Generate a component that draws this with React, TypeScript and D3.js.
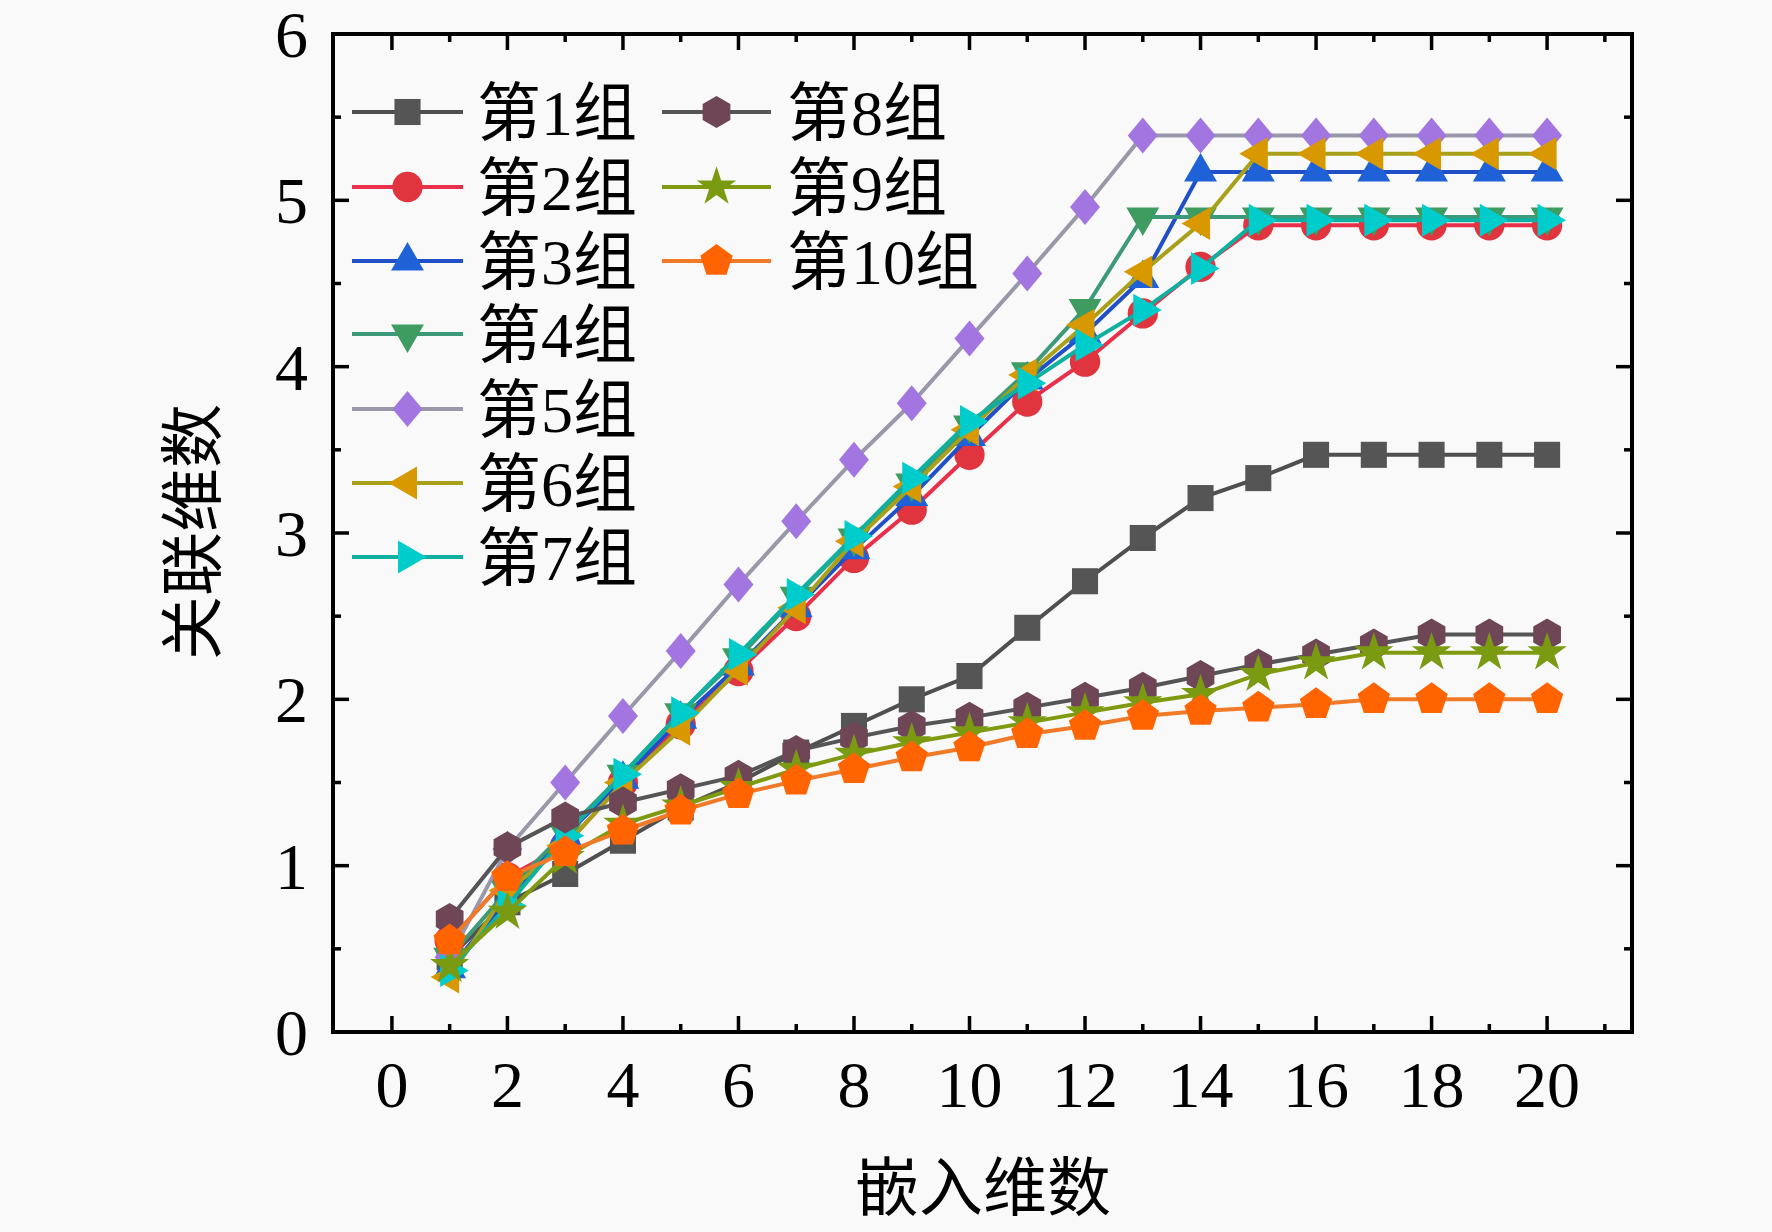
import * as d3 from "d3";

const dims = d3.range(1, 21);

const groupNames = ["第1组", "第2组", "第3组", "第4组", "第5组", "第6组", "第7组", "第8组", "第9组", "第10组"];

const g1 = [0.45, 0.78, 0.95, 1.15, 1.35, 1.5, 1.68, 1.84, 2.0, 2.14, 2.43, 2.71, 2.97, 3.21, 3.33, 3.47, 3.47, 3.47, 3.47, 3.47];
const g2 = [0.55, 0.93, 1.12, 1.5, 1.85, 2.17, 2.5, 2.85, 3.14, 3.47, 3.79, 4.03, 4.32, 4.6, 4.85, 4.85, 4.85, 4.85, 4.85, 4.85];
const g3 = [0.38, 0.8, 1.18, 1.52, 1.88, 2.2, 2.55, 2.9, 3.22, 3.58, 3.92, 4.2, 4.53, 5.17, 5.17, 5.17, 5.17, 5.17, 5.17, 5.17];
const g4 = [0.45, 0.85, 1.2, 1.55, 1.92, 2.25, 2.62, 2.97, 3.3, 3.65, 3.97, 4.35, 4.9, 4.9, 4.9, 4.9, 4.9, 4.9, 4.9, 4.9];
const g5 = [0.45, 1.1, 1.5, 1.9, 2.29, 2.69, 3.07, 3.44, 3.78, 4.17, 4.56, 4.96, 5.39, 5.39, 5.39, 5.39, 5.39, 5.39, 5.39, 5.39];
const g6 = [0.33, 0.85, 1.12, 1.5, 1.82, 2.18, 2.55, 2.95, 3.28, 3.62, 3.95, 4.25, 4.57, 4.86, 5.28, 5.28, 5.28, 5.28, 5.28, 5.28];
const g7 = [0.37, 0.76, 1.18, 1.55, 1.92, 2.27, 2.63, 2.98, 3.33, 3.67, 3.9, 4.13, 4.34, 4.59, 4.88, 4.88, 4.88, 4.88, 4.88, 4.88];
const g8 = [0.68, 1.11, 1.29, 1.38, 1.46, 1.54, 1.69, 1.77, 1.84, 1.89, 1.95, 2.01, 2.07, 2.14, 2.21, 2.27, 2.33, 2.39, 2.39, 2.39];
const g9 = [0.4, 0.72, 1.05, 1.25, 1.36, 1.47, 1.58, 1.67, 1.74, 1.8, 1.86, 1.92, 1.98, 2.03, 2.15, 2.22, 2.28, 2.28, 2.28, 2.28];
const g10 = [0.55, 0.93, 1.08, 1.21, 1.33, 1.43, 1.51, 1.58, 1.65, 1.71, 1.79, 1.84, 1.9, 1.93, 1.95, 1.97, 2.0, 2.0, 2.0, 2.0];

const seriesValues = [g1, g2, g3, g4, g5, g6, g7, g8, g9, g10];

const lineColors = ["#4f4f4f", "#e8304a", "#2050c8", "#3c9a78", "#9898a8", "#a8a018", "#10b0a0", "#555555", "#7f9a10", "#f07a28"];
const markerColors = ["#555555", "#e0343e", "#1f62d8", "#3f9c60", "#a275e0", "#d89800", "#00cccc", "#6e4656", "#7a9a12", "#ff6400"];
const shapes = ["square", "circle", "triUp", "triDown", "diamond", "triLeft", "triRight", "hexagon", "star", "pentagon"];

const xTicks = d3.range(0, 21, 2);
const yTicks = d3.range(0, 7, 1);

const W = 1772;
const H = 1232;
const plot = { left: 333, right: 1632, top: 34, bottom: 1032 };

const serif = "'Liberation Serif', 'Times New Roman', serif";
const cjk = "'Liberation Serif', 'Noto Sans CJK SC', serif";

function polygon(n: number, r: number, rot: number) {
  const pts = d3.range(n).map((i) => {
    const a = rot + (i * 2 * Math.PI) / n;
    return [r * Math.cos(a), r * Math.sin(a)];
  });
  return "M" + pts.map((p) => p[0].toFixed(2) + "," + p[1].toFixed(2)).join("L") + "Z";
}

function markerPath(shape: string) {
  const r = 16;
  switch (shape) {
    case "square":
      return d3.symbol(d3.symbolSquare, 680)()!;
    case "circle":
      return d3.symbol(d3.symbolCircle, 720)()!;
    case "triUp":
      return polygon(3, 19, -Math.PI / 2);
    case "triDown":
      return polygon(3, 19, Math.PI / 2);
    case "triLeft":
      return polygon(3, 19, Math.PI);
    case "triRight":
      return polygon(3, 19, 0);
    case "diamond":
      return "M0,-18L15,0L0,18L-15,0Z";
    case "hexagon":
      return polygon(6, r, -Math.PI / 2);
    case "pentagon":
      return polygon(5, r + 1, -Math.PI / 2);
    case "star":
      return d3.symbol(d3.symbolStar, 480)()!;
  }
  return "";
}

export default function App() {
  const x = d3.scaleLinear().domain([-1.02, 21.47]).range([plot.left, plot.right]);
  const y = d3.scaleLinear().domain([0, 6]).range([plot.bottom, plot.top]);

  const line = d3
    .line<number>()
    .x((_, i) => x(dims[i]))
    .y((v) => y(v));

  const xMinor = d3.range(1, 22, 2);
  const yMinor = d3.range(0.5, 6, 1);

  const legendRows = [112, 187, 261, 334, 409, 483, 557];
  const legendItems = groupNames.map((name, i) => {
    const col = i < 7 ? 0 : 1;
    const row = i < 7 ? i : i - 7;
    return {
      name,
      i,
      x0: col === 0 ? 352 : 662,
      x1: col === 0 ? 463 : 771,
      tx: col === 0 ? 477 : 787,
      y: legendRows[row],
    };
  });

  return (
    <svg width={W} height={H} style={{ position: "absolute", left: 0, top: 0, background: "#f9f9f9" }}>
      <rect width={W} height={H} fill="#f9f9f9" />

      {/* series */}
      {seriesValues.map((vals, s) => (
        <g key={s}>
          <path d={line(vals)!} fill="none" stroke={lineColors[s]} strokeWidth={4} />
          {vals.map((v, i) => (
            <path
              key={i}
              d={markerPath(shapes[s])}
              transform={`translate(${x(dims[i])},${y(v)})`}
              fill={markerColors[s]}
            />
          ))}
        </g>
      ))}

      {/* ticks, inward on all four sides */}
      <g stroke="#000" strokeWidth={3.5}>
        {xTicks.map((t) => (
          <g key={"xt" + t}>
            <line x1={x(t)} x2={x(t)} y1={plot.bottom} y2={plot.bottom - 16} />
            <line x1={x(t)} x2={x(t)} y1={plot.top} y2={plot.top + 16} />
          </g>
        ))}
        {xMinor.map((t) => (
          <g key={"xm" + t}>
            <line x1={x(t)} x2={x(t)} y1={plot.bottom} y2={plot.bottom - 8} />
            <line x1={x(t)} x2={x(t)} y1={plot.top} y2={plot.top + 8} />
          </g>
        ))}
        {yTicks.map((t) => (
          <g key={"yt" + t}>
            <line x1={plot.left} x2={plot.left + 16} y1={y(t)} y2={y(t)} />
            <line x1={plot.right} x2={plot.right - 16} y1={y(t)} y2={y(t)} />
          </g>
        ))}
        {yMinor.map((t) => (
          <g key={"ym" + t}>
            <line x1={plot.left} x2={plot.left + 8} y1={y(t)} y2={y(t)} />
            <line x1={plot.right} x2={plot.right - 8} y1={y(t)} y2={y(t)} />
          </g>
        ))}
      </g>

      <rect
        x={plot.left}
        y={plot.top}
        width={plot.right - plot.left}
        height={plot.bottom - plot.top}
        fill="none"
        stroke="#000"
        strokeWidth={4}
      />

      {/* tick labels */}
      {xTicks.map((t) => (
        <text key={"xl" + t} x={x(t)} y={1107} textAnchor="middle" fontFamily={serif} fontSize={66}>
          {t}
        </text>
      ))}
      {yTicks.map((t) => (
        <text key={"yl" + t} x={308} y={y(t)} dy="0.35em" textAnchor="end" fontFamily={serif} fontSize={66}>
          {t}
        </text>
      ))}

      {/* axis titles */}
      <text x={983} y={1210} textAnchor="middle" fontFamily={cjk} fontSize={64}>
        嵌入维数
      </text>
      <text
        transform="translate(215,532) rotate(-90)"
        textAnchor="middle"
        fontFamily={cjk}
        fontSize={64}
      >
        关联维数
      </text>

      {/* legend */}
      {legendItems.map((it) => (
        <g key={it.name}>
          <line x1={it.x0} x2={it.x1} y1={it.y} y2={it.y} stroke={lineColors[it.i]} strokeWidth={4} />
          <path
            d={markerPath(shapes[it.i])}
            transform={`translate(${(it.x0 + it.x1) / 2},${it.y})`}
            fill={markerColors[it.i]}
          />
          <text x={it.tx} y={it.y} dy="0.36em" fontFamily={cjk} fontSize={64}>
            {it.name}
          </text>
        </g>
      ))}
    </svg>
  );
}
